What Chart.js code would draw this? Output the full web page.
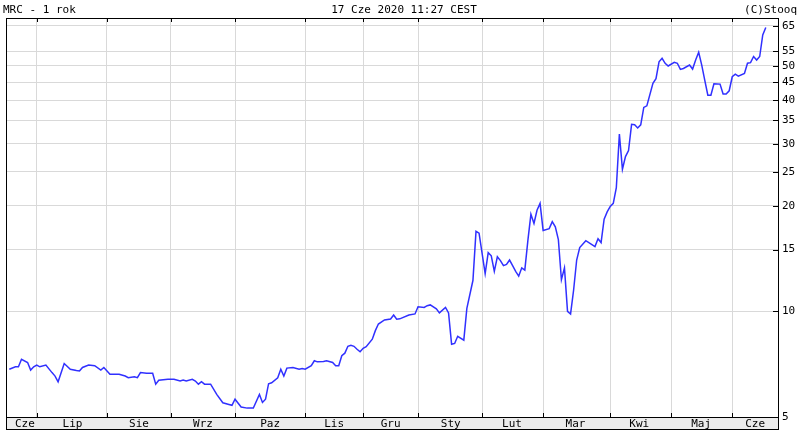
<!DOCTYPE html>
<html>
<head>
<meta charset="utf-8">
<script src="https://cdn.jsdelivr.net/npm/chart.js@4"></script>
<style>
  html, body { margin: 0; padding: 0; background: #fff; }
  #wrap { width: 801px; height: 430px; }
</style>
</head>
<body>
<div id="wrap"><canvas id="chart"></canvas></div>
<script>
// trading day index (0 = 17 Jun 2019) and close price
const dayIdx = [
  0, 2, 3, 4, 6, 7, 8, 9, 10, 12, 14, 15, 16, 18, 20, 22, 23, 24, 26, 28,
  30, 31, 33, 36, 38, 39, 41, 42, 43, 45, 47, 48, 49, 52, 54, 56, 57, 58, 60, 61,
  62, 63, 64, 66, 68, 70, 72, 73, 74, 76, 78, 80, 82, 83, 84, 85, 86, 88, 89, 90,
  91, 93, 95, 96, 97, 99, 100, 101, 103, 104, 106, 107, 108, 109, 110, 111, 112, 113, 114, 115,
  116, 117, 119, 120, 121, 123, 125, 126, 127, 128, 131, 133, 134, 136, 137, 138, 140, 141, 143, 144,
  145, 146, 147, 149, 150, 152, 153, 154, 156, 157, 158, 159, 160, 161, 162, 163, 164, 165, 166, 167,
  168, 169, 170, 171, 172, 173, 174, 175, 177, 178, 179, 180, 181, 182, 183, 184, 185, 186, 187, 189,
  191, 192, 193, 194, 195, 196, 197, 198, 199, 200, 201, 202, 203, 204, 205, 206, 207, 208, 209, 211,
  212, 213, 214, 215, 216, 218, 219, 220, 221, 223, 224, 225, 226, 227, 228, 229, 230, 231, 233, 234,
  235, 236, 237, 238, 239, 241, 242, 243, 244, 245, 246, 247, 248
];
const price = [
  6.84, 6.95, 6.95, 7.3, 7.15, 6.8, 6.95, 7.03, 6.95, 7.03, 6.69, 6.54, 6.3, 7.1, 6.84, 6.78, 6.76, 6.92, 7.03, 7.0,
  6.8, 6.92, 6.62, 6.62, 6.54, 6.47, 6.51, 6.47, 6.69, 6.66, 6.66, 6.2, 6.36, 6.4, 6.4, 6.33, 6.37, 6.33, 6.4, 6.33,
  6.2, 6.3, 6.2, 6.2, 5.8, 5.49, 5.43, 5.4, 5.62, 5.34, 5.3, 5.3, 5.8, 5.5, 5.62, 6.22, 6.26, 6.47, 6.84, 6.54,
  6.89, 6.92, 6.84, 6.87, 6.84, 7.0, 7.23, 7.18, 7.2, 7.23, 7.15, 7.0, 7.0, 7.47, 7.6, 7.95, 8.0, 7.95, 7.8, 7.67,
  7.85, 7.93, 8.33, 8.81, 9.2, 9.45, 9.51, 9.76, 9.5, 9.52, 9.76, 9.83, 10.3, 10.26, 10.38, 10.43, 10.16, 9.9, 10.26, 9.9,
  8.06, 8.1, 8.49, 8.28, 10.2, 12.26, 16.9, 16.7, 12.8, 14.7, 14.4, 13.0, 14.3, 13.95, 13.5, 13.6, 14.0, 13.5, 13.0, 12.6,
  13.3, 13.1, 15.9, 18.9, 17.8, 19.4, 20.3, 17.0, 17.2, 18.0, 17.4, 16.0, 12.3, 13.3, 10.0, 9.83, 11.5, 14.0, 15.2, 15.9,
  15.5, 15.3, 16.1, 15.7, 18.3, 19.2, 19.9, 20.3, 22.5, 32.0, 25.4, 27.6, 28.7, 34.1, 34.0, 33.3, 34.0, 38.1, 38.5, 44.6,
  46.0, 51.4, 52.6, 50.9, 50.0, 51.2, 50.9, 48.9, 49.2, 50.3, 49.0, 52.0, 54.7, 50.3, 45.5, 41.3, 41.3, 44.5, 44.4, 41.6,
  41.6, 42.5, 46.6, 47.4, 46.8, 47.6, 50.9, 51.1, 53.2, 52.0, 53.2, 61.3, 64.4
];

// first trading day of each month (grid lines)
const monthStarts = [9, 32, 53, 74, 97, 116, 134, 155, 175, 197, 217, 237];
// month names and where they sit (middle of the month)
const monthLabels = ['Cze', 'Lip', 'Sie', 'Wrz', 'Paz', 'Lis', 'Gru', 'Sty', 'Lut', 'Mar', 'Kwi', 'Maj', 'Cze'];
const monthLabelPos = [5.1, 20.7, 42.5, 63.5, 85.5, 106.5, 125, 144.7, 164.8, 185.6, 206.5, 226.8, 244.5];
const yTicks = [5, 10, 15, 20, 25, 30, 35, 40, 45, 50, 55, 65];

const titleLeft = 'MRC - 1 rok';
const titleCenter = '17 Cze 2020 11:27 CEST';
const titleRight = '(C)Stooq';

const FONT_FAMILY = '"DejaVu Sans Mono", monospace';
const GRID = '#d9d9d9';

const frame = {
  id: 'frame',
  beforeDraw(chart) {
    const { ctx, chartArea: a } = chart;
    ctx.save();
    ctx.fillStyle = '#fff';
    ctx.fillRect(0, 0, chart.width, chart.height);
    ctx.fillStyle = '#ececec';
    ctx.fillRect(a.left, a.bottom, a.right - a.left, 12);
    ctx.restore();
  },
  afterDraw(chart) {
    const { ctx, chartArea: a, scales } = chart;
    ctx.save();
    ctx.strokeStyle = '#000';
    ctx.lineWidth = 1;
    ctx.strokeRect(a.left + 0.5, a.top + 0.5, a.right - a.left, a.bottom - a.top + 12);
    ctx.beginPath();
    ctx.moveTo(a.left, a.bottom + 0.5);
    ctx.lineTo(a.right, a.bottom + 0.5);
    monthStarts.forEach(d => {
      const x = Math.round(scales.x.getPixelForValue(d)) + 0.5;
      ctx.moveTo(x, a.top);
      ctx.lineTo(x, a.top + 4);
      ctx.moveTo(x, a.bottom);
      ctx.lineTo(x, a.bottom - 4);
    });
    yTicks.forEach(v => {
      const y = Math.round(scales.y.getPixelForValue(v)) + 0.5;
      ctx.moveTo(a.right - 5, y);
      ctx.lineTo(a.right, y);
    });
    ctx.stroke();

    ctx.fillStyle = '#000';
    ctx.font = '11px ' + FONT_FAMILY;
    ctx.textAlign = 'left';
    ctx.fillText(titleLeft, 3, 13);
    ctx.textAlign = 'center';
    ctx.fillText(titleCenter, 404, 13);
    ctx.textAlign = 'right';
    ctx.fillText(titleRight, 797, 13);
    ctx.restore();
  }
};

new Chart(document.getElementById('chart'), {
  type: 'line',
  data: {
    datasets: [{
      data: dayIdx.map((d, i) => ({ x: d, y: price[i] })),
      borderColor: '#3030ff',
      borderWidth: 1.5,
      pointRadius: 0,
      tension: 0,
      fill: false
    }]
  },
  options: {
    responsive: true,
    maintainAspectRatio: false,
    animation: false,
    layout: { padding: { left: 6, top: 18, right: 0, bottom: 0 } },
    plugins: {
      legend: { display: false },
      tooltip: { enabled: false }
    },
    scales: {
      x: {
        type: 'linear',
        bounds: 'data',
        min: -1.08,
        max: 252,
        position: 'bottom',
        weight: 0,
        afterBuildTicks: ax => { ax.ticks = monthStarts.map(v => ({ value: v })); },
        afterFit: ax => { ax.height = 0; },
        ticks: { display: false },
        grid: { color: GRID, drawTicks: false },
        border: { display: false }
      },
      xl: {
        type: 'linear',
        bounds: 'data',
        min: -1.08,
        max: 252,
        position: 'bottom',
        weight: 1,
        afterBuildTicks: ax => { ax.ticks = monthLabelPos.map(v => ({ value: v })); },
        afterFit: ax => { ax.height = 13; },
        ticks: {
          callback: (v, i) => monthLabels[i],
          font: { family: FONT_FAMILY, size: 11 },
          color: '#000',
          padding: 1,
          maxRotation: 0,
          autoSkip: false
        },
        grid: { display: false, drawTicks: false },
        border: { display: false }
      },
      y: {
        type: 'logarithmic',
        bounds: 'data',
        position: 'right',
        min: 5,
        max: 68.5,
        afterBuildTicks: ax => { ax.ticks = yTicks.map(v => ({ value: v })); },
        afterFit: ax => { ax.width = 23; },
        ticks: {
          callback: v => String(v),
          font: { family: FONT_FAMILY, size: 11 },
          color: '#000',
          padding: 4,
          autoSkip: false
        },
        grid: { color: GRID, drawTicks: false },
        border: { display: false }
      }
    }
  },
  plugins: [frame]
});
</script>
</body>
</html>
